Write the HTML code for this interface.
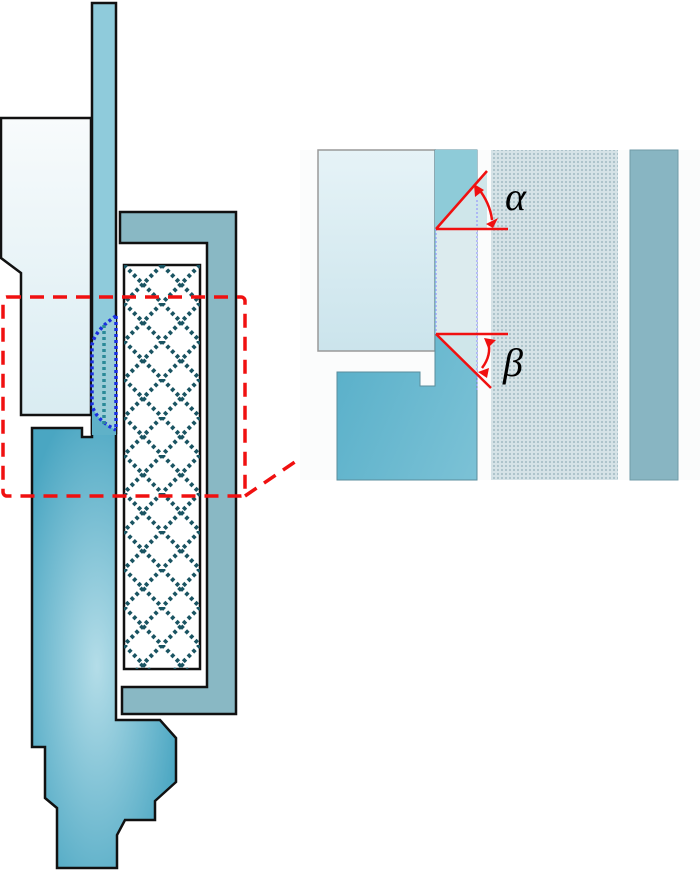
<!DOCTYPE html>
<html><head><meta charset="utf-8"><style>html,body{margin:0;padding:0;background:#fff}svg{display:block}</style></head>
<body>
<svg width="700" height="871" viewBox="0 0 700 871" xmlns="http://www.w3.org/2000/svg">
<defs>
<linearGradient id="lb" x1="0" y1="0" x2="0" y2="1"><stop offset="0" stop-color="#f8fbfc"/><stop offset="1" stop-color="#d9ecf2"/></linearGradient>
<linearGradient id="lb2" x1="0" y1="0" x2="0" y2="1"><stop offset="0" stop-color="#e6f3f7"/><stop offset="1" stop-color="#cbe4ec"/></linearGradient>
<radialGradient id="bl" cx="0.45" cy="0.55" r="0.6"><stop offset="0" stop-color="#b4dde8"/><stop offset="1" stop-color="#4aa6c2"/></radialGradient>
<linearGradient id="bl2" x1="0" y1="0" x2="1" y2="1"><stop offset="0" stop-color="#4aa8c4"/><stop offset="1" stop-color="#7cc2d6"/></linearGradient>
<pattern id="mesh" x="124" y="265" width="38" height="38" patternUnits="userSpaceOnUse">
<path d="M0 0 L38 38 M38 0 L0 38" stroke="#1a5462" stroke-width="4" stroke-dasharray="3.5 3.2" fill="none"/>
</pattern>
<pattern id="dots" width="4" height="4" patternUnits="userSpaceOnUse"><rect width="4" height="4" fill="#d6e3e7"/><circle cx="2" cy="2" r="1.1" fill="#a9c0c8"/></pattern>
</defs>
<rect x="92" y="3" width="24" height="430" fill="#8fcbdb" stroke="#111" stroke-width="2.5"/>
<path d="M1 118 H91 V415 H21 V273 L1 258 Z" fill="url(#lb)" stroke="#111" stroke-width="2.5"/>
<path d="M120 212 H236 V714 H122 V687 H207 V243 H120 Z" fill="#89b8c4" stroke="#111" stroke-width="2.5"/>
<rect x="124" y="265" width="76" height="404" fill="#fff" stroke="#111" stroke-width="2.5"/>
<rect x="124" y="265" width="76" height="404" fill="url(#mesh)"/>
<path d="M32 428 H82 V437 H92 V420 H116 V720 H160 L176 738 V782 L155 801 V820 H125 L117 835 V868 H57 V808 L45 798 V747 H32 Z" fill="url(#bl)" stroke="#111" stroke-width="2.5"/>
<rect x="92" y="405" width="24" height="30" fill="#5fb1c8"/>
<path d="M116 316 Q95 330 92 345 V405 Q96 420 116 430" fill="#9ccdd8" stroke="#1a2ee0" stroke-width="3.5" stroke-dasharray="3 3"/>
<path d="M104 325 V425" stroke="#2a8a98" stroke-width="3.5" stroke-dasharray="3 3"/>
<path d="M116 316 V430" stroke="#1a2ee0" stroke-width="3.5" stroke-dasharray="3 3"/>
<rect x="3" y="297" width="242" height="199" rx="4" fill="none" stroke="#f01010" stroke-width="3.5" stroke-dasharray="14 9"/>
<path d="M245 496 L330 438" stroke="#f01010" stroke-width="3.5" stroke-dasharray="14 9"/>
<rect x="300" y="150" width="400" height="330" fill="#fbfcfc"/>
<rect x="318" y="150" width="117" height="201" fill="url(#lb2)" stroke="#999" stroke-width="1.5"/>
<path d="M337 372 H420 V386 H435 V150 H477 V480 H337 Z" fill="url(#bl2)" stroke="#5a8d9c" stroke-width="1"/>
<rect x="435" y="150" width="42" height="184" fill="#8ecbd8"/>
<path d="M436 229 L487 171 V229 Z" fill="#cfe6ea"/>
<rect x="436" y="229" width="41" height="105" fill="#dcebee"/>
<path d="M436 334 H477 V376 Z" fill="#cfe6ea"/>
<path d="M436 229 V334 M477 200 V390" stroke="#8888ff" stroke-width="1" stroke-dasharray="2 2"/>
<rect x="491" y="150" width="127" height="330" fill="url(#dots)"/>
<rect x="630" y="150" width="48" height="330" fill="#88b5c2" stroke="#6f9aa7" stroke-width="1"/>
<g stroke="#f01010" stroke-width="2.5" fill="none">
<path d="M436 229 L487 171 M436 229 H508 M436 334 H508 M436 334 L491 388"/>
<path d="M478 188 Q490 203 492 220"/>
<path d="M488 341 Q492 355 482 368"/>
</g>
<g fill="#f01010">
<path d="M474 184 L484 190 L475 197 Z"/>
<path d="M486 224 L498 218 L493 228 Z"/>
<path d="M484 338 L496 340 L488 348 Z"/>
<path d="M478 372 L489 368 L487 378 Z"/>
</g>
<text x="505" y="210" font-family="Liberation Serif, serif" font-style="italic" font-size="40">α</text>
<text x="503" y="376" font-family="Liberation Serif, serif" font-style="italic" font-size="40">β</text>
</svg>
</body></html>
